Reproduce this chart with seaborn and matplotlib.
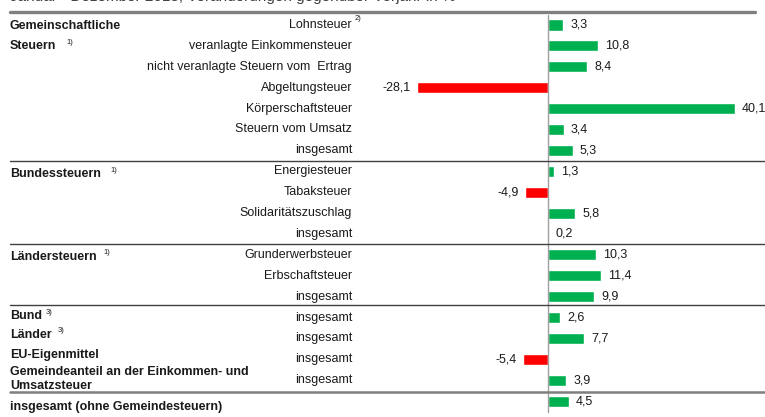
import matplotlib
matplotlib.use("Agg")
import matplotlib.pyplot as plt
import matplotlib.transforms as mtransforms
import seaborn as sns
import pandas as pd
from matplotlib.lines import Line2D

sns.set_theme(style="white")
plt.rcParams['font.family'] = ['Liberation Sans', 'DejaVu Sans']

# ---- data ----
categories = [
    "Lohnsteuer", "veranlagte Einkommensteuer", "nicht veranlagte Steuern vom  Ertrag",
    "Abgeltungsteuer", "Körperschaftsteuer", "Steuern vom Umsatz", "insgesamt",
    "Energiesteuer", "Tabaksteuer", "Solidaritätszuschlag", "insgesamt",
    "Grunderwerbsteuer", "Erbschaftsteuer", "insgesamt",
    "insgesamt", "insgesamt", "insgesamt", "insgesamt", "",
]
values = [3.3, 10.8, 8.4, -28.1, 40.1, 3.4, 5.3,
          1.3, -4.9, 5.8, 0.2,
          10.3, 11.4, 9.9,
          2.6, 7.7, -5.4, 3.9, 4.5]
value_labels = ["3,3", "10,8", "8,4", "-28,1", "40,1", "3,4", "5,3",
                "1,3", "-4,9", "5,8", "0,2",
                "10,3", "11,4", "9,9",
                "2,6", "7,7", "-5,4", "3,9", "4,5"]
group_labels = ["Gemeinschaftliche", "Steuern", "Bundessteuern", "Ländersteuern",
                "Bund", "Länder", "EU-Eigenmittel",
                "Gemeindeanteil an der Einkommen- und", "Umsatzsteuer",
                "insgesamt (ohne Gemeindesteuern)"]
title = "Januar - Dezember 2018, Veränderungen gegenüber Vorjahr in %"

rows = [f"r{i}" for i in range(len(values))]
df = pd.DataFrame({"row": rows, "value": values,
                   "sign": ["neg" if v < 0 else "pos" for v in values]})

W, H = 765, 417
fig = plt.figure(figsize=(W / 100, H / 100), dpi=100)
ax = fig.add_axes([0, 0, 1, 1])

sns.barplot(data=df, x="value", y="row", hue="sign", order=rows,
            palette={"pos": "#00B050", "neg": "#FF0000"}, dodge=False,
            width=0.53, legend=False, ax=ax, saturation=1)

# scale: zero at x=548 px, 4.66 px per unit; rows at 25 + 20.9*i px
X0, SX = 548, 4.66
Y0, SY = 25, 20.9
ax.set_xlim(-X0 / SX, (W - X0) / SX)
ax.set_ylim((H - Y0) / SY, -Y0 / SY)
ax.axis("off")

def fx(px):
    return px / W

def fy(py):
    return 1 - py / H

txt = "#1a1a1a"
fs = 9

# zero line
ax.axvline(0, ymin=fy(412), ymax=fy(15), color="#a0a0a0", lw=1)

# value labels
for i, (v, lab) in enumerate(zip(values, value_labels)):
    if v >= 0:
        ax.text(v + 7 / SX, i, lab, ha="left", va="center", fontsize=fs, color=txt)
    else:
        ax.text(v - 6 / SX, i, lab, ha="right", va="center", fontsize=fs, color=txt)

# category labels (right aligned at 352 px)
tr = mtransforms.blended_transform_factory(fig.transFigure, ax.transData)
for i, c in enumerate(categories):
    if c:
        ax.text(fx(352), i, c, ha="right", va="center", fontsize=fs, color=txt, transform=tr)
fig.text(fx(355), fy(19), "2)", fontsize=5.5, color=txt, ha="left", va="center")

# group labels
def glabel(px, py, s):
    fig.text(fx(px), fy(py), s, ha="left", va="center", fontsize=fs,
             fontweight="bold", color=txt)

def sup(px, py, s):
    fig.text(fx(px), fy(py), s, ha="left", va="center", fontsize=5.5, color=txt)

glabel(10, 26, group_labels[0])
glabel(10, 46, group_labels[1])
sup(66, 42, "1)")
glabel(10, 174, group_labels[2])
sup(110, 170, "1)")
glabel(10, 257, group_labels[3])
sup(103, 253, "1)")
glabel(10, 316, group_labels[4])
sup(46, 312, "3)")
glabel(10, 335, group_labels[5])
sup(58, 330, "3)")
glabel(10, 355, group_labels[6])
glabel(10, 372, group_labels[7])
glabel(10, 386, group_labels[8])
glabel(10, 407, group_labels[9])

# separator lines
def hline(y, x1, x2, color, lw):
    fig.add_artist(Line2D([fx(x1), fx(x2)], [fy(y), fy(y)], color=color, lw=lw,
                          transform=fig.transFigure))

hline(12, 10, 755, "#7f7f7f", 2.4)
hline(161, 10, 765, "#404040", 1.0)
hline(244, 10, 765, "#404040", 1.0)
hline(305, 10, 765, "#404040", 1.0)
hline(392, 10, 765, "#7f7f7f", 1.8)

# cut-off title at top (as in the reference)
fig.text(fx(10), fy(1), title, ha="left", va="baseline", fontsize=11, color="#404040")

fig.savefig("out.png", dpi=100)
